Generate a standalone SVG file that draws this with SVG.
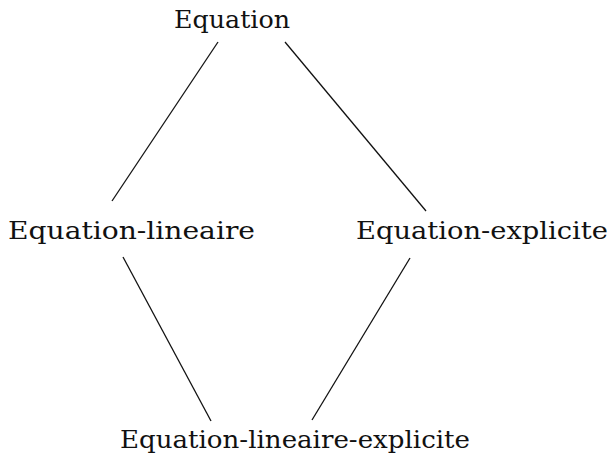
<svg xmlns="http://www.w3.org/2000/svg" width="610" height="457" viewBox="0 0 610 457">
<style>
.lbl{font-family:"DejaVu Serif","Liberation Serif",serif;font-size:25px;fill:#111}
.edge{stroke:#111;stroke-width:1.3;fill:none}
</style>
<rect width="610" height="457" fill="#fff"/>
<g id="connectors">
<line class="edge" x1="218" y1="42" x2="112" y2="201"/>
<line class="edge" x1="285" y1="42" x2="426" y2="211"/>
<line class="edge" x1="123" y1="257" x2="211" y2="421"/>
<line class="edge" x1="410" y1="258" x2="312" y2="420"/>
</g>
<g id="n-equation"><text class="lbl" x="174" y="28" textLength="116" lengthAdjust="spacingAndGlyphs">Equation</text></g>
<g id="n-lineaire"><text class="lbl" x="8" y="239" textLength="247" lengthAdjust="spacingAndGlyphs">Equation-lineaire</text></g>
<g id="n-explicite"><text class="lbl" x="356" y="239" textLength="252" lengthAdjust="spacingAndGlyphs">Equation-explicite</text></g>
<g id="n-lin-expl"><text class="lbl" x="120" y="448" textLength="350" lengthAdjust="spacingAndGlyphs">Equation-lineaire-explicite</text></g>
</svg>
